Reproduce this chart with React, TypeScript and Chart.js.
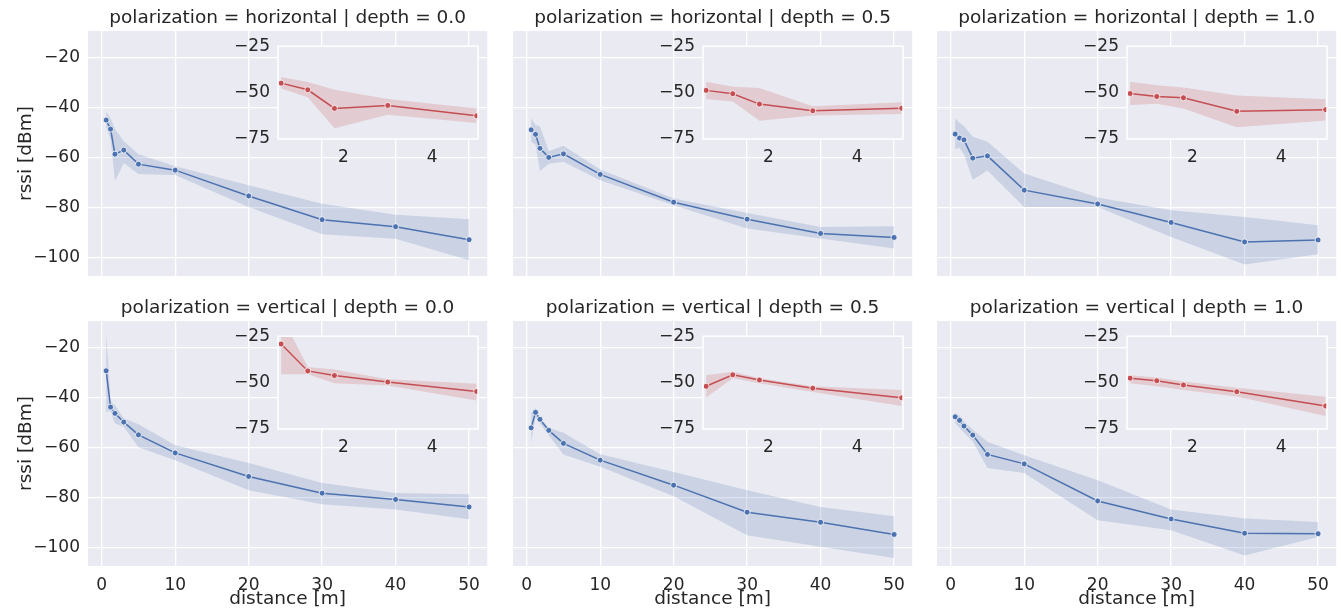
import React, { useEffect, useRef } from 'react';
import { Chart, registerables } from 'chart.js';

Chart.register(...registerables);

// ---- data ----
const distances = [0.6, 1.2, 1.8, 3, 5, 10, 20, 30, 40, 50];
const insetPointCount = 5;

const mainXTicks = [0, 10, 20, 30, 40, 50];
const mainYTicks = [-100, -80, -60, -40, -20];
const insetXTicks = [2, 4];
const insetYTicks = [-75, -50, -25];

const polarizations = ['horizontal', 'vertical'];
const depths = ['0.0', '0.5', '1.0'];

// horizontal
const hd0Mean = [-44.9, -48.5, -58.5, -56.9, -62.5, -64.9, -75.2, -84.7, -87.5, -92.7];
const hd0Low = [-47.8, -52.5, -69.2, -62.0, -66.4, -66.8, -79.6, -90.5, -92.3, -100.9];
const hd0High = [-41.6, -44.3, -48.5, -53.4, -58.5, -63.3, -70.9, -78.3, -82.7, -84.5];

const hd05Mean = [-48.8, -50.6, -56.2, -59.8, -58.4, -66.6, -77.7, -84.5, -90.2, -91.8];
const hd05Low = [-53.5, -54.8, -65.2, -62.3, -61.5, -68.9, -78.9, -88.2, -92.2, -96.2];
const hd05High = [-44.2, -46.9, -47.5, -57.4, -55.2, -64.6, -76.2, -82.0, -87.6, -87.3];

const hd1Mean = [-50.5, -52.1, -52.8, -60.1, -59.2, -72.9, -78.4, -85.8, -93.6, -92.8];
const hd1Low = [-56.7, -56.0, -58.5, -68.7, -65.0, -79.6, -79.6, -91.6, -102.6, -98.5];
const hd1High = [-44.2, -46.1, -47.3, -51.6, -53.6, -66.2, -75.8, -80.9, -83.6, -86.9];

// vertical
const vd0Mean = [-29.2, -43.7, -46.2, -49.7, -54.8, -62.0, -71.4, -78.1, -80.6, -83.6];
const vd0Low = [-45.5, -45.5, -50.3, -51.6, -59.7, -64.9, -76.9, -82.5, -84.6, -88.5];
const vd0High = [-13.6, -41.6, -43.0, -48.2, -50.6, -58.9, -66.0, -74.0, -78.0, -78.5];

const vd05Mean = [-52.0, -45.8, -48.6, -53.0, -58.2, -64.9, -74.9, -85.7, -89.7, -94.6];
const vd05Low = [-58.0, -47.7, -50.3, -55.0, -62.6, -67.5, -79.3, -94.9, -99.5, -104.0];
const vd05High = [-46.0, -44.2, -47.7, -52.0, -54.0, -62.5, -69.6, -76.9, -83.6, -87.3];

const vd1Mean = [-47.6, -49.0, -51.3, -54.9, -62.6, -66.4, -81.2, -88.4, -94.1, -94.3];
const vd1Low = [-50.3, -52.0, -54.0, -57.5, -68.0, -70.0, -88.9, -92.9, -103.0, -95.6];
const vd1High = [-46.0, -47.2, -49.4, -52.8, -57.6, -62.9, -72.9, -84.6, -88.2, -89.6];

const meanSeries = [[hd0Mean, hd05Mean, hd1Mean], [vd0Mean, vd05Mean, vd1Mean]];
const lowSeries = [[hd0Low, hd05Low, hd1Low], [vd0Low, vd05Low, vd1Low]];
const highSeries = [[hd0High, hd05High, hd1High], [vd0High, vd05High, vd1High]];

// ---- style / layout ----
const FONT = "'DejaVu Sans', sans-serif";
const TEXT = '#262626';
const PANEL_BG = '#EAEAF2';
const BLUE = '#4C72B0';
const BLUE_BAND = 'rgba(76,114,176,0.2)';
const RED = '#C44E52';
const RED_BAND = 'rgba(196,78,82,0.2)';

const PANEL_LEFT = [88, 513, 937];
const PANEL_TOP = [31, 321];
const PANEL_W = 400;
const PANEL_H = 245;
const AXIS_W = 88;
const TITLE_H = 31;
const XAXIS_H = 50;

const INSET_DX = 190;
const INSET_DY = 11;
const INSET_W = 200;
const INSET_H = 97;
const INSET_AXIS_W = 50;
const INSET_PAD_TOP = 14;
const INSET_XAXIS_H = 30;
const INSET_PAD_RIGHT = 6;

const fmt = (v: number | string) => {
  const n = Number(v);
  return n < 0 ? '\u2212' + Math.abs(n) : String(n);
};

const pts = (ys: number[], n: number) => ys.slice(0, n).map((y, i) => ({ x: distances[i], y }));

function makeDatasets(mean: number[], low: number[], high: number[], color: string, band: string, n: number) {
  return [
    {
      data: pts(mean, n),
      borderColor: color,
      backgroundColor: color,
      borderWidth: 1.5,
      pointRadius: 3,
      pointBorderColor: '#ffffff',
      pointBorderWidth: 0.8,
      pointBackgroundColor: color,
      fill: false,
      order: 0,
      clip: 0,
    },
    {
      data: pts(low, n),
      borderColor: 'rgba(0,0,0,0)',
      borderWidth: 0,
      pointRadius: 0,
      fill: false,
      order: 2,
      clip: 0,
    },
    {
      data: pts(high, n),
      borderColor: 'rgba(0,0,0,0)',
      borderWidth: 0,
      pointRadius: 0,
      backgroundColor: band,
      fill: 1,
      order: 1,
      clip: 0,
    },
  ];
}

const bgPlugin = (border: boolean) => ({
  id: 'panelBg',
  beforeDraw(chart: any) {
    const { ctx, chartArea } = chart;
    ctx.save();
    ctx.fillStyle = PANEL_BG;
    ctx.fillRect(chartArea.left, chartArea.top, chartArea.right - chartArea.left, chartArea.bottom - chartArea.top);
    ctx.restore();
  },
  afterDatasetsDraw(chart: any) {
    if (!border) return;
    const { ctx, chartArea } = chart;
    ctx.save();
    ctx.strokeStyle = '#ffffff';
    ctx.lineWidth = 1.5;
    ctx.strokeRect(chartArea.left, chartArea.top, chartArea.right - chartArea.left, chartArea.bottom - chartArea.top);
    ctx.restore();
  },
});

const setTicks = (arr: number[]) => (s: any) => {
  s.ticks = arr.map((v) => ({ value: v }));
};

function Panel({ row, col }: { row: number; col: number }) {
  const mainRef = useRef<HTMLCanvasElement>(null);
  const insetRef = useRef<HTMLCanvasElement>(null);
  const mean = meanSeries[row][col];
  const low = lowSeries[row][col];
  const high = highSeries[row][col];

  useEffect(() => {
    const tickFont = { family: FONT, size: 17 };
    const labelFont = { family: FONT, size: 18.5 };
    const main = new Chart(mainRef.current as HTMLCanvasElement, {
      type: 'line',
      data: { datasets: makeDatasets(mean, low, high, BLUE, BLUE_BAND, distances.length) as any },
      options: {
        animation: false,
        responsive: false,
        devicePixelRatio: 1,
        events: [],
        layout: { padding: { left: 0, right: 4, top: 0, bottom: 0 } },
        plugins: {
          legend: { display: false },
          tooltip: { enabled: false },
          title: {
            display: true,
            fullSize: false,
            text: `polarization = ${polarizations[row]} | depth = ${depths[col]}`,
            color: TEXT,
            font: { family: FONT, size: 18.5, weight: 'normal' },
            padding: { top: 7.5, bottom: 1.3 },
          },
        },
        scales: {
          x: {
            type: 'linear',
            min: -1.87,
            max: 52.47,
            afterBuildTicks: setTicks(mainXTicks),
            afterFit: (s: any) => {
              s.height = XAXIS_H;
            },
            grid: { color: '#ffffff', lineWidth: 1.3, drawTicks: false },
            border: { display: false },
            ticks: {
              display: row === 1,
              padding: 9,
              color: TEXT,
              font: tickFont,
              maxRotation: 0,
              autoSkip: false,
              callback: fmt,
            },
            title: {
              display: row === 1,
              text: 'distance [m]',
              color: TEXT,
              font: labelFont,
              padding: { top: 0, bottom: 6 },
            },
          },
          y: {
            type: 'linear',
            min: -107.2,
            max: -9.3,
            afterBuildTicks: setTicks(mainYTicks),
            afterFit: (s: any) => {
              s.width = AXIS_W;
            },
            grid: { color: '#ffffff', lineWidth: 1.3, drawTicks: false },
            border: { display: false },
            ticks: {
              display: col === 0,
              padding: 8,
              color: TEXT,
              font: tickFont,
              autoSkip: false,
              callback: fmt,
            },
            title: {
              display: col === 0,
              text: 'rssi [dBm]',
              color: TEXT,
              font: labelFont,
              padding: { top: 15, bottom: 0 },
            },
          },
        },
      } as any,
      plugins: [bgPlugin(false)],
    });

    const inset = new Chart(insetRef.current as HTMLCanvasElement, {
      type: 'line',
      data: { datasets: makeDatasets(mean, low, high, RED, RED_BAND, insetPointCount) as any },
      options: {
        animation: false,
        responsive: false,
        devicePixelRatio: 1,
        events: [],
        layout: { padding: { left: 0, right: INSET_PAD_RIGHT, top: INSET_PAD_TOP, bottom: 0 } },
        plugins: {
          legend: { display: false },
          tooltip: { enabled: false },
          title: { display: false },
        },
        scales: {
          x: {
            type: 'linear',
            min: 0.53,
            max: 5.03,
            afterBuildTicks: setTicks(insetXTicks),
            afterFit: (s: any) => {
              s.height = INSET_XAXIS_H;
            },
            grid: { display: false, drawTicks: false },
            border: { display: false },
            ticks: { padding: 8, color: TEXT, font: tickFont, maxRotation: 0, autoSkip: false, callback: fmt },
          },
          y: {
            type: 'linear',
            min: -75,
            max: -25,
            afterBuildTicks: setTicks(insetYTicks),
            afterFit: (s: any) => {
              s.width = INSET_AXIS_W;
            },
            grid: { display: false, drawTicks: false },
            border: { display: false },
            ticks: { padding: 8, color: TEXT, font: tickFont, autoSkip: false, callback: fmt },
          },
        },
      } as any,
      plugins: [bgPlugin(true)],
    });

    return () => {
      main.destroy();
      inset.destroy();
    };
  }, [row, col]);

  const mainLeft = PANEL_LEFT[col] - AXIS_W;
  const mainTop = PANEL_TOP[row] - TITLE_H;
  const mainW = AXIS_W + PANEL_W + 4;
  const mainH = TITLE_H + PANEL_H + XAXIS_H;

  const insetLeft = PANEL_LEFT[col] + INSET_DX - INSET_AXIS_W;
  const insetTop = PANEL_TOP[row] + INSET_DY - INSET_PAD_TOP;
  const insetW = INSET_AXIS_W + INSET_W + INSET_PAD_RIGHT;
  const insetH = INSET_PAD_TOP + INSET_H + INSET_XAXIS_H;

  return (
    <>
      <canvas
        ref={mainRef}
        width={mainW}
        height={mainH}
        style={{ position: 'absolute', left: mainLeft, top: mainTop, width: mainW, height: mainH }}
      />
      <canvas
        ref={insetRef}
        width={insetW}
        height={insetH}
        style={{ position: 'absolute', left: insetLeft, top: insetTop, width: insetW, height: insetH }}
      />
    </>
  );
}

export default function App() {
  const cells: { row: number; col: number }[] = [];
  for (let r = 0; r < 2; r++) for (let c = 0; c < 3; c++) cells.push({ row: r, col: c });
  return (
    <div
      style={{
        position: 'absolute',
        left: 0,
        top: 0,
        width: 1341,
        height: 616,
        background: '#ffffff',
        overflow: 'hidden',
      }}
    >
      {cells.map((c) => (
        <Panel key={`${c.row}-${c.col}`} row={c.row} col={c.col} />
      ))}
    </div>
  );
}
